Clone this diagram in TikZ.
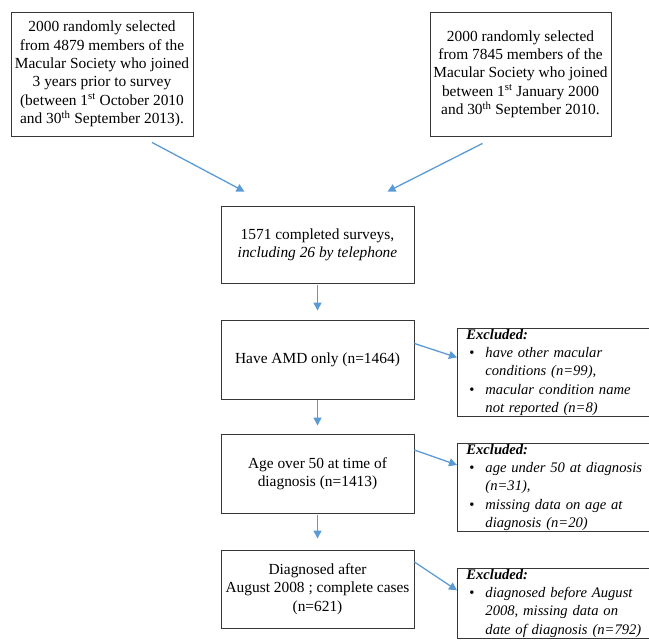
\documentclass[tikz,border=0pt]{standalone}
\usepackage{fontspec}
\setmainfont{Liberation Serif}
\usepackage{xcolor}
\usetikzlibrary{positioning,calc,arrows.meta}
\definecolor{arrowblue}{RGB}{91,155,213}
\definecolor{boxline}{RGB}{55,55,55}
\newcommand{\exbul}{\makebox[19pt][l]{\hspace{3pt}\textbullet}}
\newcommand{\exind}{\hspace*{19pt}}

\begin{document}
\begin{tikzpicture}[x=1pt, y=-1pt,
    box/.style={draw=boxline, line width=0.9pt, align=center, inner sep=0pt,
        font=\fontsize{15.4}{18.3}\selectfont},
    exbox/.style={draw=boxline, line width=0.9pt, align=left, anchor=north west,
        text width=200pt, inner xsep=9pt, inner ysep=1pt,
        font=\fontsize{14.6}{18.2}\selectfont},
    flow/.style={arrowblue, line width=1.3pt, -{Triangle[length=8pt,width=8pt]}}]
    \useasboundingbox (0,0) rectangle (649,641);
    \clip (0,0) rectangle (649,641);

    % Sources
    \node[box, minimum width=182pt, minimum height=124pt] (src1) at (102,74)
        {2000 randomly selected\\ from 4879 members of the\\ Macular Society who joined\\
         3 years prior to survey\\ (between 1\textsuperscript{st} October 2010\\
         and 30\textsuperscript{th} September 2013).};
    \node[box, minimum width=181pt, minimum height=124pt] (src2) at (520.5,74)
        {2000 randomly selected\\ from 7845 members of the\\ Macular Society who joined\\
         between 1\textsuperscript{st} January 2000\\ and 30\textsuperscript{th} September 2010.};

    % Main flow
    \node[box, minimum width=193pt, minimum height=77pt] (surv) at (317.5,244.5)
        {1571 completed surveys,\\ \textit{including 26 by telephone}};
    \node[box, minimum width=193pt, minimum height=79pt] (amd) at (317.5,359.5)
        {Have AMD only (n=1464)};
    \node[box, minimum width=193pt, minimum height=79pt] (age) at (317.5,473.5)
        {Age over 50 at time of\\ diagnosis (n=1413)};
    \node[box, minimum width=193pt, minimum height=78pt] (diag) at (317.5,589)
        {Diagnosed after\\ August 2008 ; complete cases\\ (n=621)};

    % Exclusions
    \node[exbox] (exc1) at (457,328)
        {\textbf{\textit{Excluded:}}\\
         \exbul\textit{have other macular}\\
         \exind\textit{conditions (n=99),}\\
         \exbul\textit{macular condition name}\\
         \exind\textit{not reported (n=8)}};
    \node[exbox] (exc2) at (457,443)
        {\textbf{\textit{Excluded:}}\\
         \exbul\textit{age under 50 at diagnosis}\\
         \exind\textit{(n=31),}\\
         \exbul\textit{missing data on age at}\\
         \exind\textit{diagnosis (n=20)}};
    \node[exbox] (exc3) at (457,568)
        {\textbf{\textit{Excluded:}}\\
         \exbul\textit{diagnosed before August}\\
         \exind\textit{2008, missing data on}\\
         \exind\textit{date of diagnosis (n=792)}};

    % Arrows
    \draw[flow] ([xshift=50pt,yshift=-6pt]src1.south) -- ([xshift=-73pt,yshift=14pt]surv.north);
    \draw[flow] ([xshift=-38pt,yshift=-7pt]src2.south) -- ([xshift=70pt,yshift=14pt]surv.north);
    \draw[flow, shorten <=2pt, shorten >=9pt] (surv) -- (amd);
    \draw[flow, shorten <=1pt, shorten >=8pt] (amd) -- (age);
    \draw[flow, shorten <=2pt, shorten >=11pt] (age) -- (diag);
    \draw[flow] ([yshift=16pt]amd.east) -- ([yshift=15pt]exc1.west);
    \draw[flow] ([yshift=23.5pt]age.east) -- ([yshift=22.5pt]exc2.west);
    \draw[flow] ([yshift=27pt]diag.east) -- ([yshift=13pt]exc3.west);
\end{tikzpicture}
\end{document}
